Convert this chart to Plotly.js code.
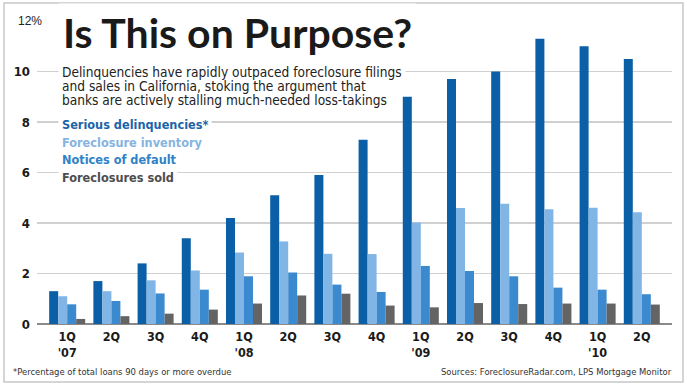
<!DOCTYPE html>
<html>
<head>
<meta charset="utf-8">
<script src="https://cdn.plot.ly/plotly-3.0.1.min.js"></script>
<style>
  html, body { margin: 0; padding: 0; background: #fff; }
  #chart { width: 687px; height: 387px; }
</style>
</head>
<body>
<div id="chart"></div>
<script>
// ---- data ----
const quarters = ["1Q","2Q","3Q","4Q","1Q","2Q","3Q","4Q","1Q","2Q","3Q","4Q","1Q","2Q"];
const years = ["'07","","","","'08","","","","'09","","","","'10",""];
const seriesNames = ["Serious delinquencies*","Foreclosure inventory","Notices of default","Foreclosures sold"];
const seriousDelinquencies = [1.3,1.7,2.4,3.4,4.2,5.1,5.9,7.3,9.0,9.7,10.0,11.3,11.0,10.5];
const foreclosureInventory = [1.1,1.3,1.73,2.12,2.83,3.27,2.78,2.77,4.02,4.59,4.76,4.54,4.6,4.43];
const noticesOfDefault = [0.78,0.91,1.21,1.36,1.89,2.04,1.56,1.27,2.3,2.1,1.89,1.44,1.36,1.18];
const foreclosuresSold = [0.2,0.31,0.41,0.57,0.81,1.13,1.2,0.73,0.66,0.83,0.79,0.81,0.81,0.77];
const yTickVals = [0,2,4,6,8,10,12];
const yTickText = ["0","2","4","6","8","10",""];
const titleText = "Is This on Purpose?";
const subtitleLines = [
  "Delinquencies have rapidly outpaced foreclosure filings",
  "and sales in California, stoking the argument that",
  "banks are actively stalling much-needed loss-takings"
];
const footnote = "*Percentage of total loans 90 days or more overdue";
const sources = "Sources: ForeclosureRadar.com, LPS Mortgage Monitor";

// ---- style ----
const COND = "'DejaVu Sans Condensed', 'Liberation Sans Narrow', sans-serif";
const TITLEF = "Lato, 'DejaVu Sans Condensed', sans-serif";
const REG = "'Liberation Sans', Arial, sans-serif";
const barColors = ["#0a5fa6", "#80b5e5", "#3b8acf", "#646464"];
const labelColors = ["#1a64a8", "#86b4df", "#2f82c6", "#4d4d4d"];
const W = 687, H = 387;
const M = {l: 37, r: 15, t: 21, b: 63};
const PW = W - M.l - M.r, PH = H - M.t - M.b;
const px = x => (x - M.l) / PW;
const py = y => (H - M.b - y) / PH;

const xs = quarters.map((q, i) => i);
const tickText = quarters.map((q, i) => years[i] ? q + "<br>" + years[i] : q);
const allSeries = [seriousDelinquencies, foreclosureInventory, noticesOfDefault, foreclosuresSold];

const traces = allSeries.map((vals, k) => ({
  type: "bar",
  x: xs,
  y: vals,
  name: seriesNames[k],
  marker: {color: barColors[k], line: {width: 0}},
  hoverinfo: "skip"
}));

const annotations = [];
// title
annotations.push({
  xref: "paper", yref: "paper", x: px(58), y: py(32.5),
  xanchor: "left", yanchor: "middle",
  text: titleText, showarrow: false, bgcolor: "#fff", borderpad: 4,
  font: {family: TITLEF, size: 41, weight: "bold", color: "#1a1a1a"}
});
// subtitle lines
const subY = [72, 86, 100];
subtitleLines.forEach((t, i) => annotations.push({
  xref: "paper", yref: "paper", x: px(i === 0 ? 58 : 61), y: py(subY[i]),
  xanchor: "left", yanchor: "middle",
  text: t, showarrow: false, bgcolor: i === 0 ? "#fff" : "rgba(0,0,0,0)", borderpad: i === 0 ? 3 : 0,
  font: {family: COND, size: 13.6, color: "#222"}
}));
// series labels
const legY = [124, 142, 159.5, 177];
seriesNames.forEach((n, k) => annotations.push({
  xref: "paper", yref: "paper", x: px(58), y: py(legY[k]),
  xanchor: "left", yanchor: "middle",
  text: n, showarrow: false, bgcolor: (k === 0 || k === 3) ? "#fff" : "rgba(0,0,0,0)", borderpad: 3,
  font: {family: COND, size: 12.6, weight: "bold", color: labelColors[k]}
}));
// 12% label
annotations.push({
  xref: "paper", yref: "y", x: px(47), y: 12,
  xanchor: "right", yanchor: "middle",
  text: "12%", showarrow: false, bgcolor: "#fff", borderpad: 4,
  font: {family: REG, size: 12, color: "#222"}
});
// footer
annotations.push({
  xref: "paper", yref: "paper", x: px(11), y: py(371),
  xanchor: "left", yanchor: "middle",
  text: footnote, showarrow: false,
  font: {family: COND, size: 9.4, color: "#333"}
});
annotations.push({
  xref: "paper", yref: "paper", x: px(674), y: py(371),
  xanchor: "right", yanchor: "middle",
  text: sources, showarrow: false,
  font: {family: COND, size: 9.4, color: "#333"}
});

const layout = {
  width: W, height: H,
  margin: M,
  paper_bgcolor: "#fff", plot_bgcolor: "#fff",
  barmode: "group", bargap: 0.185, bargroupgap: 0,
  showlegend: false,
  hovermode: false,
  xaxis: {
    range: [-0.683, 13.683],
    tickvals: xs, ticktext: tickText,
    showgrid: false, zeroline: false, showline: false, ticks: "",
    ticklabelstandoff: 3,
    tickfont: {family: COND, size: 12.5, weight: "bold", color: "#1a1a1a"},
    fixedrange: true
  },
  yaxis: {
    range: [0, 12],
    tickvals: yTickVals, ticktext: yTickText,
    showgrid: true, gridcolor: "#d0d0d0", gridwidth: 1.3,
    zeroline: true, zerolinecolor: "#8a8a8a", zerolinewidth: 2,
    showline: false, ticks: "",
    ticklabelstandoff: 6,
    tickfont: {family: COND, size: 13, weight: "bold", color: "#1a1a1a"},
    fixedrange: true
  },
  shapes: [{
    type: "rect", xref: "paper", yref: "paper",
    x0: px(4), x1: px(683), y0: py(382), y1: py(3),
    line: {color: "#c8c8c8", width: 1.5}, fillcolor: "rgba(0,0,0,0)", layer: "below"
  }],
  annotations: annotations
};

Plotly.newPlot("chart", traces, layout, {displayModeBar: false, staticPlot: true});
</script>
</body>
</html>
